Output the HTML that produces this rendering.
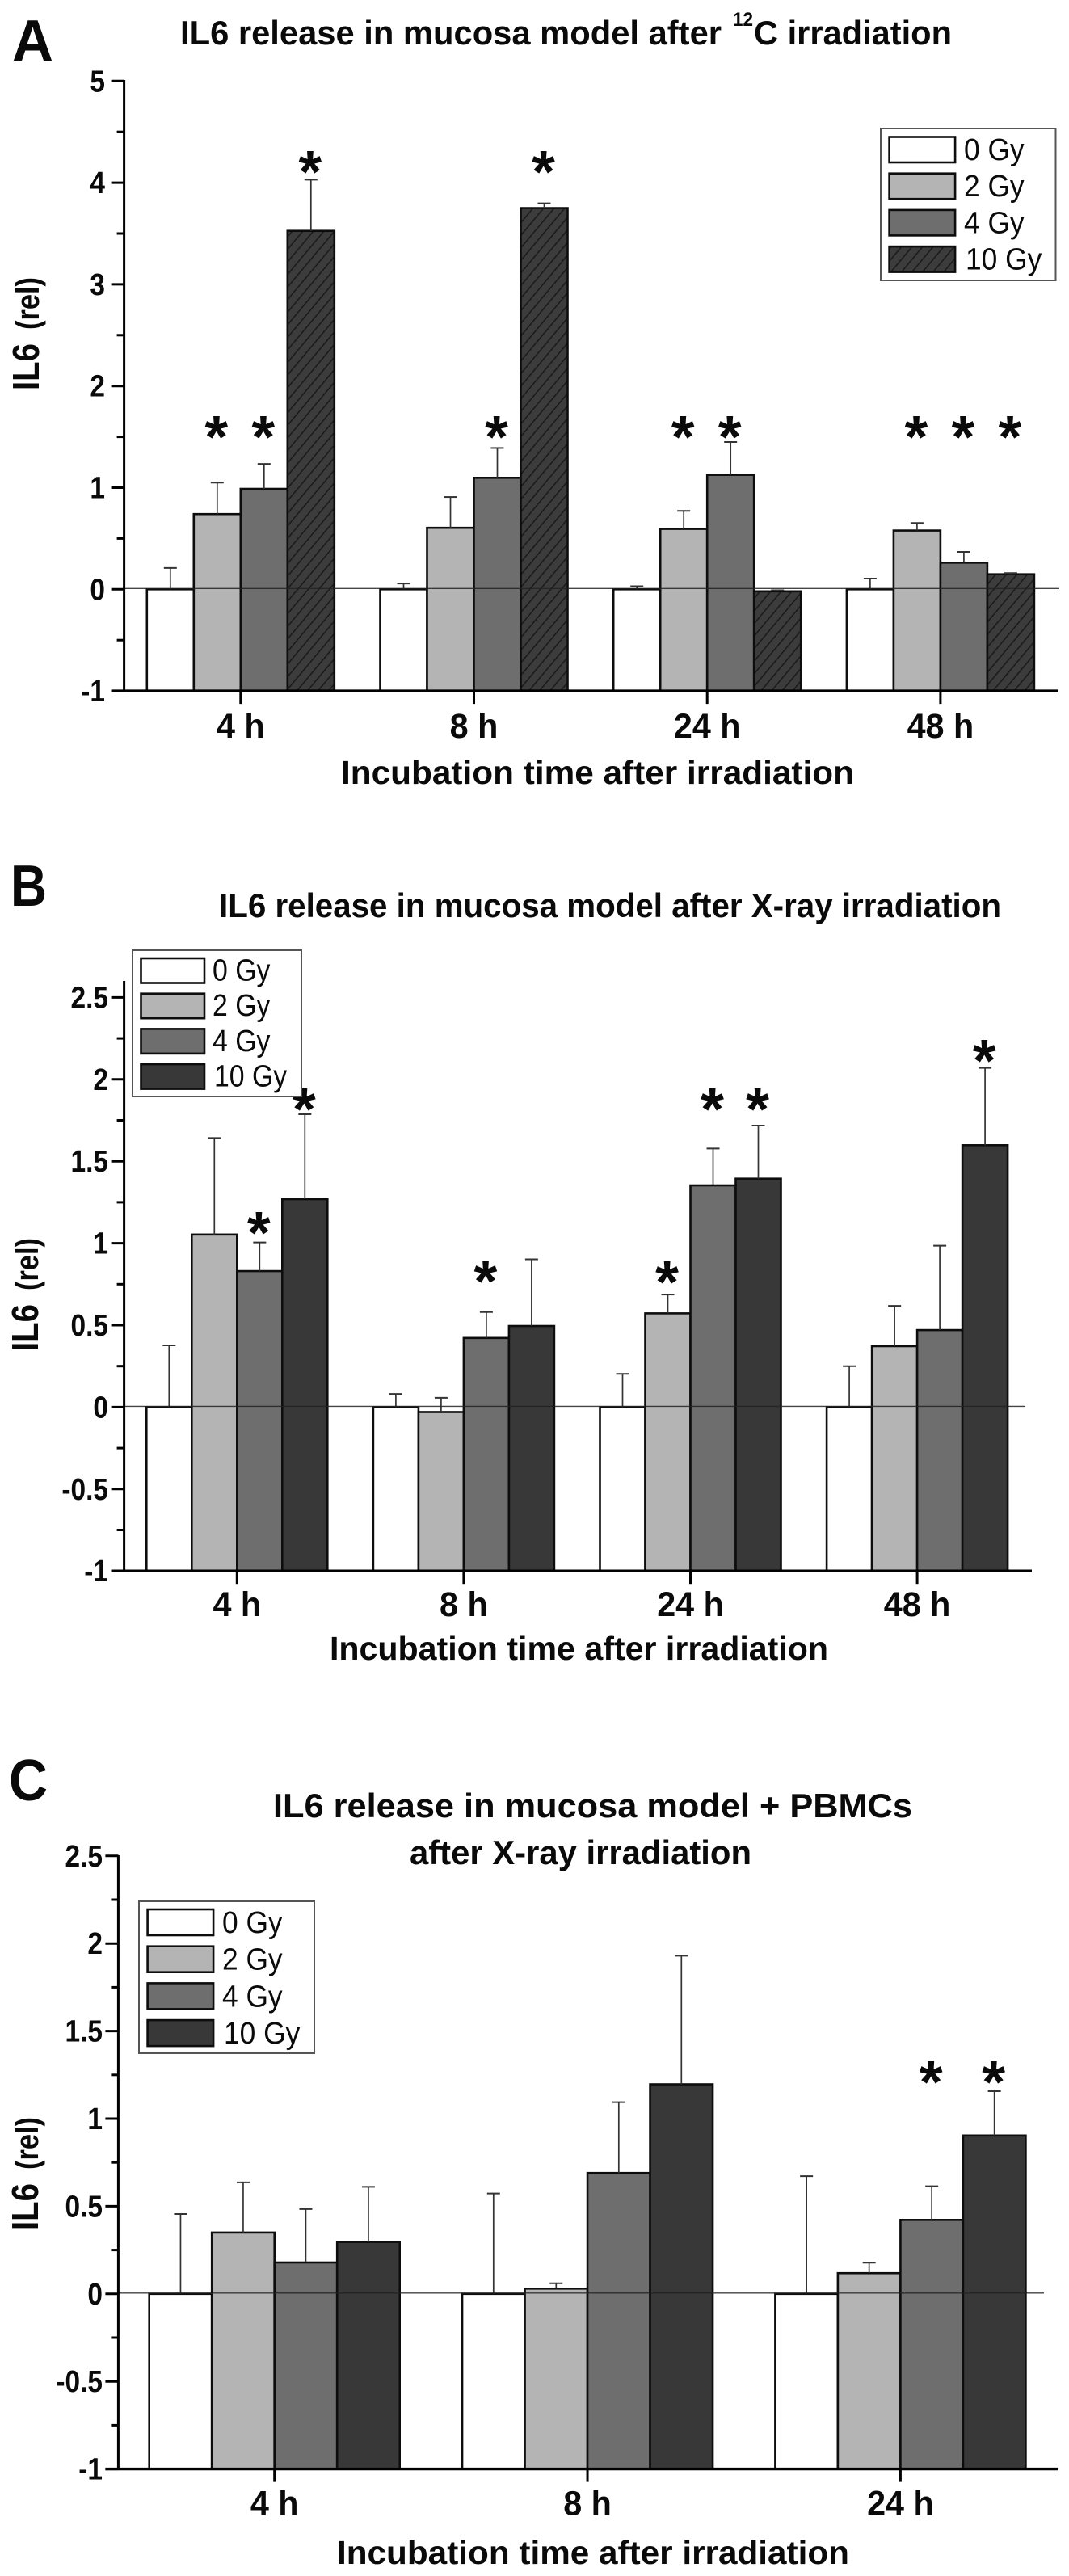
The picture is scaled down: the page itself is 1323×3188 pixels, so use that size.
<!DOCTYPE html>
<html lang="en">
<head>
<meta charset="utf-8">
<title>IL6 release in mucosa model</title>
<style>
html,body{margin:0;padding:0;background:#fff;}
svg{display:block;}
text{font-family:"Liberation Sans",Arial,sans-serif;fill:#0a0a0a;}
.title{font-weight:bold;font-size:42px;}
.xtitle{font-weight:bold;font-size:41px;}
.letter{font-weight:bold;font-size:72px;}
</style>
</head>
<body>
<svg id="figure" xmlns="http://www.w3.org/2000/svg" width="1323" height="3188" viewBox="0 0 1323 3188">
  <defs>
    <pattern id="hatch" patternUnits="userSpaceOnUse" width="10" height="10" patternTransform="rotate(40)">
      <rect width="10" height="10" fill="#3c3c3c"/>
      <line x1="1" y1="0" x2="1" y2="10" stroke="#161616" stroke-width="1.4"/>
    </pattern>
  </defs>
  <rect width="1323" height="3188" fill="#fff"/>

  <text class="letter" x="15" y="75" textLength="51" lengthAdjust="spacingAndGlyphs">A</text>
  <text class="title" x="223" y="55" textLength="670" lengthAdjust="spacingAndGlyphs">IL6 release in mucosa model after</text>
  <text x="907" y="32" font-size="24" font-weight="bold" textLength="25" lengthAdjust="spacingAndGlyphs">12</text>
  <text class="title" x="933" y="55" textLength="245" lengthAdjust="spacingAndGlyphs">C irradiation</text>
  <text class="xtitle" x="422" y="970" textLength="635" lengthAdjust="spacingAndGlyphs">Incubation time after irradiation</text>

  <text class="letter" x="13" y="1121" textLength="45" lengthAdjust="spacingAndGlyphs">B</text>
  <text class="title" x="271" y="1135" textLength="968" lengthAdjust="spacingAndGlyphs">IL6 release in mucosa model after X-ray irradiation</text>
  <text class="xtitle" x="408" y="2054" textLength="617" lengthAdjust="spacingAndGlyphs">Incubation time after irradiation</text>

  <text class="letter" x="11" y="2228" textLength="48" lengthAdjust="spacingAndGlyphs">C</text>
  <text class="title" x="338" y="2249" textLength="791" lengthAdjust="spacingAndGlyphs">IL6 release in mucosa model + PBMCs</text>
  <text class="title" x="507" y="2307" textLength="423" lengthAdjust="spacingAndGlyphs">after X-ray irradiation</text>
  <text class="xtitle" x="417" y="3173" textLength="634" lengthAdjust="spacingAndGlyphs">Incubation time after irradiation</text>
</svg>

<script>
// Shared labels
const doses = ['0 Gy', '2 Gy', '4 Gy', '10 Gy'];
const doseKeys = ['0gy', '2gy', '4gy', '10gy'];

// Panel A
const categoriesA = ['4 h', '8 h', '24 h', '48 h'];
const yTicksA = [-1, 0, 1, 2, 3, 4, 5];
const yMinorTicksA = [-0.5, 0.5, 1.5, 2.5, 3.5, 4.5];
const yTickLabelsA = ['-1', '0', '1', '2', '3', '4', '5'];
const meanA0 = [0, 0, 0, 0];
const meanA2 = [0.74, 0.605, 0.594, 0.578];
const meanA4 = [0.988, 1.097, 1.126, 0.262];
const meanA10 = [3.526, 3.75, -0.02, 0.148];
const errA0 = [0.21, 0.057, 0.03, 0.106];
const errA2 = [0.31, 0.303, 0.177, 0.074];
const errA4 = [0.246, 0.293, 0.323, 0.106];
const errA10 = [0.504, 0.047, 0.01, 0.011];
const starA0 = [null, null, null, null];
const starA2 = [1.585, null, 1.585, 1.585];
const starA4 = [1.585, 1.585, 1.585, 1.585];
const starA10 = [4.19, 4.19, null, 1.585];

// Panel B
const categoriesB = ['4 h', '8 h', '24 h', '48 h'];
const yTicksB = [-1, -0.5, 0, 0.5, 1, 1.5, 2, 2.5];
const yMinorTicksB = [-0.75, -0.25, 0.25, 0.75, 1.25, 1.75, 2.25];
const yTickLabelsB = ['-1', '-0.5', '0', '0.5', '1', '1.5', '2', '2.5'];
const meanB0 = [0, 0, 0, 0];
const meanB2 = [1.053, -0.03, 0.572, 0.372];
const meanB4 = [0.83, 0.422, 1.353, 0.47];
const meanB10 = [1.269, 0.495, 1.394, 1.598];
const errB0 = [0.377, 0.08, 0.203, 0.25];
const errB2 = [0.589, 0.087, 0.115, 0.246];
const errB4 = [0.175, 0.158, 0.225, 0.515];
const errB10 = [0.518, 0.407, 0.324, 0.472];
const starB0 = [null, null, null, null];
const starB2 = [null, null, 0.816, null];
const starB4 = [1.116, 0.82, 1.87, null];
const starB10 = [1.87, null, 1.87, 2.167];

// Panel C
const categoriesC = ['4 h', '8 h', '24 h'];
const yTicksC = [-1, -0.5, 0, 0.5, 1, 1.5, 2, 2.5];
const yMinorTicksC = [-0.75, -0.25, 0.25, 0.75, 1.25, 1.75, 2.25];
const yTickLabelsC = ['-1', '-0.5', '0', '0.5', '1', '1.5', '2', '2.5'];
const meanC0 = [0, 0, 0];
const meanC2 = [0.35, 0.03, 0.118];
const meanC4 = [0.179, 0.69, 0.422];
const meanC10 = [0.296, 1.196, 0.904];
const errC0 = [0.456, 0.573, 0.672];
const errC2 = [0.286, 0.03, 0.06];
const errC4 = [0.305, 0.404, 0.192];
const errC10 = [0.315, 0.734, 0.253];
const starC0 = [null, null, null];
const starC2 = [null, null, null];
const starC4 = [null, null, 1.258];
const starC10 = [null, null, 1.258];

const svgNS = 'http://www.w3.org/2000/svg';
const fig = document.getElementById('figure');

function make(tag, attrs, parent, text) {
  const node = document.createElementNS(svgNS, tag);
  for (const k in attrs) node.setAttribute(k, attrs[k]);
  if (text !== undefined) node.textContent = text;
  parent.appendChild(node);
  return node;
}

// Narrow a label horizontally so taller glyphs keep the reference width.
function squeeze(node, factor) {
  const w = node.getComputedTextLength();
  node.setAttribute('textLength', (w * factor).toFixed(1));
  node.setAttribute('lengthAdjust', 'spacingAndGlyphs');
}

function drawPanel(p) {
  const y = v => p.yZero - p.yUnit * v;
  const x = i => p.xFirst + p.xStep * i;
  const fills = ['#ffffff', '#b4b4b4', '#6e6e6e', p.hatch ? 'url(#hatch)' : '#383838'];
  const base = y(p.yTicks[0]);

  const g = make('g', {}, fig);
  
  

  // Bars
  p.means.forEach((series, s) => {
    series.forEach((value, c) => {
      const left = x(c) + (s - 2) * p.barW;
      const bar = make('rect', {x: left, y: y(value), width: p.barW, height: base - y(value), fill: fills[s], stroke: '#0d0d0d', 'stroke-width': 2.6}, g);
      
      
    });
  });

  // Error bars
  p.errs.forEach((series, s) => {
    series.forEach((err, c) => {
      const cx = x(c) + (s - 2) * p.barW + p.barW / 2;
      const mean = p.means[s][c];
      const eg = make('g', {stroke: '#333', fill: 'none'}, g);
      
      
      make('line', {x1: cx, x2: cx, y1: y(mean), y2: y(mean + err), 'stroke-width': 1.7}, eg);
      make('line', {x1: cx - 8, x2: cx + 8, y1: y(mean + err), y2: y(mean + err), 'stroke-width': 2}, eg);
    });
  });

  // Zero reference line
  const zero = make('line', {x1: p.axisX, x2: p.zeroEnd, y1: y(0) - 1, y2: y(0) - 1, stroke: '#222', 'stroke-opacity': 0.85, 'stroke-width': 1.4}, g);
  
  

  // Y axis
  const yAxis = make('line', {x1: p.axisX, x2: p.axisX, y1: p.axisTop, y2: base + 1, stroke: '#000', 'stroke-width': 3}, g);
  
  
  p.yTicks.forEach((t, i) => {
    const tick = make('line', {x1: p.axisX - 16, x2: p.axisX, y1: y(t), y2: y(t), stroke: '#000', 'stroke-width': 3}, g);
    
    
    const label = make('text', {x: p.labelRight, y: y(t) + 13, 'text-anchor': 'end', 'font-size': 38, 'font-weight': 'bold'}, g, p.yLabels[i]);
    
    
    squeeze(label, 0.88);
  });
  p.yMinor.forEach(t => {
    const minor = make('line', {x1: p.axisX - 9, x2: p.axisX, y1: y(t), y2: y(t), stroke: '#000', 'stroke-width': 3}, g);
    
    
  });

  // X axis
  const xAxis = make('line', {x1: p.axisX - 16, x2: p.axisEnd, y1: base, y2: base, stroke: '#000', 'stroke-width': 3.4}, g);
  
  
  p.categories.forEach((cat, c) => {
    const tick = make('line', {x1: x(c), x2: x(c), y1: base, y2: base + 16, stroke: '#000', 'stroke-width': 3}, g);
    
    
    const label = make('text', {x: x(c), y: p.xLabelY, 'text-anchor': 'middle', 'font-size': 43, 'font-weight': 'bold'}, g, cat);
    
    
    squeeze(label, 0.96);
  });

  // Significance stars
  p.stars.forEach((series, s) => {
    series.forEach((level, c) => {
      if (level === null) return;
      const cx = x(c) + (s - 2) * p.barW + p.barW / 2 - 1;
      const star = make('text', {x: cx, y: y(level) + 36, 'text-anchor': 'middle', 'font-size': 74, 'font-weight': 'bold'}, g, '*');
      
      
    });
  });

  // Y axis title
  const yt1 = make('text', {transform: 'translate(' + p.yTitleX + ',' + p.yTitleBottom + ') rotate(-90)', 'font-size': 46, 'font-weight': 'bold', textLength: 58, lengthAdjust: 'spacingAndGlyphs'}, g, 'IL6');
  
  
  const yt2 = make('text', {transform: 'translate(' + p.yTitleX + ',' + (p.yTitleBottom - 75) + ') rotate(-90)', 'font-size': 40, 'font-weight': 'bold', textLength: 65, lengthAdjust: 'spacingAndGlyphs'}, g, '(rel)');
  
  

  // Legend
  const lg = make('g', {}, fig);
  
  
  make('rect', {x: p.legend.x, y: p.legend.y, width: p.legend.w, height: p.legend.h, fill: '#fff', stroke: '#555', 'stroke-width': 2}, lg);
  doses.forEach((d, s) => {
    const top = p.legend.swatchY + s * p.legend.step;
    const sw = make('rect', {x: p.legend.swatchX, y: top, width: p.legend.swatchW, height: p.legend.swatchH, fill: fills[s], stroke: '#0d0d0d', 'stroke-width': 2.6}, lg);
    
    
    const lab = make('text', {x: p.legend.textX + (s === 3 ? 2 : 0), y: top + p.legend.swatchH - 3, 'font-size': 38}, lg, d);
    
    
    squeeze(lab, p.legend.squeeze);
  });
}

drawPanel({
  id: 'a', hatch: true, categories: categoriesA, yTicks: yTicksA, yMinor: yMinorTicksA, yLabels: yTickLabelsA,
  means: [meanA0, meanA2, meanA4, meanA10], errs: [errA0, errA2, errA4, errA10], stars: [starA0, starA2, starA4, starA10],
  yZero: 729.3, yUnit: 125.8, xFirst: 297.8, xStep: 288.7, barW: 58,
  axisX: 153.6, axisTop: 99, axisEnd: 1310, zeroEnd: 1311, labelRight: 130, xLabelY: 913,
  yTitleX: 48, yTitleBottom: 483,
  legend: {x: 1090, y: 159, w: 216.5, h: 188, swatchX: 1100.6, swatchY: 169.5, swatchW: 81.5, swatchH: 31.5, step: 45.2, textX: 1193, squeeze: 0.93}
});

drawPanel({
  id: 'b', hatch: false, categories: categoriesB, yTicks: yTicksB, yMinor: yMinorTicksB, yLabels: yTickLabelsB,
  means: [meanB0, meanB2, meanB4, meanB10], errs: [errB0, errB2, errB4, errB10], stars: [starB0, starB2, starB4, starB10],
  yZero: 1741.4, yUnit: 202.8, xFirst: 293.3, xStep: 280.6, barW: 56,
  axisX: 153.6, axisTop: 1214, axisEnd: 1277, zeroEnd: 1269, labelRight: 134, xLabelY: 2000,
  yTitleX: 47, yTitleBottom: 1672,
  legend: {x: 164, y: 1176, w: 209, h: 181, swatchX: 174.5, swatchY: 1186, swatchW: 78.5, swatchH: 30.5, step: 43.7, textX: 263, squeeze: 0.89}
});

drawPanel({
  id: 'c', hatch: false, categories: categoriesC, yTicks: yTicksC, yMinor: yMinorTicksC, yLabels: yTickLabelsC,
  means: [meanC0, meanC2, meanC4, meanC10], errs: [errC0, errC2, errC4, errC10], stars: [starC0, starC2, starC4, starC10],
  yZero: 2838.8, yUnit: 216.8, xFirst: 339.7, xStep: 387.35, barW: 77.5,
  axisX: 146.4, axisTop: 2296, axisEnd: 1310, zeroEnd: 1292, labelRight: 127, xLabelY: 3112.5,
  yTitleX: 47, yTitleBottom: 2760,
  legend: {x: 172, y: 2353, w: 217, h: 188, swatchX: 182.6, swatchY: 2363, swatchW: 81.5, swatchH: 32, step: 45.7, textX: 275, squeeze: 0.93}
});
</script>
</body>
</html>
